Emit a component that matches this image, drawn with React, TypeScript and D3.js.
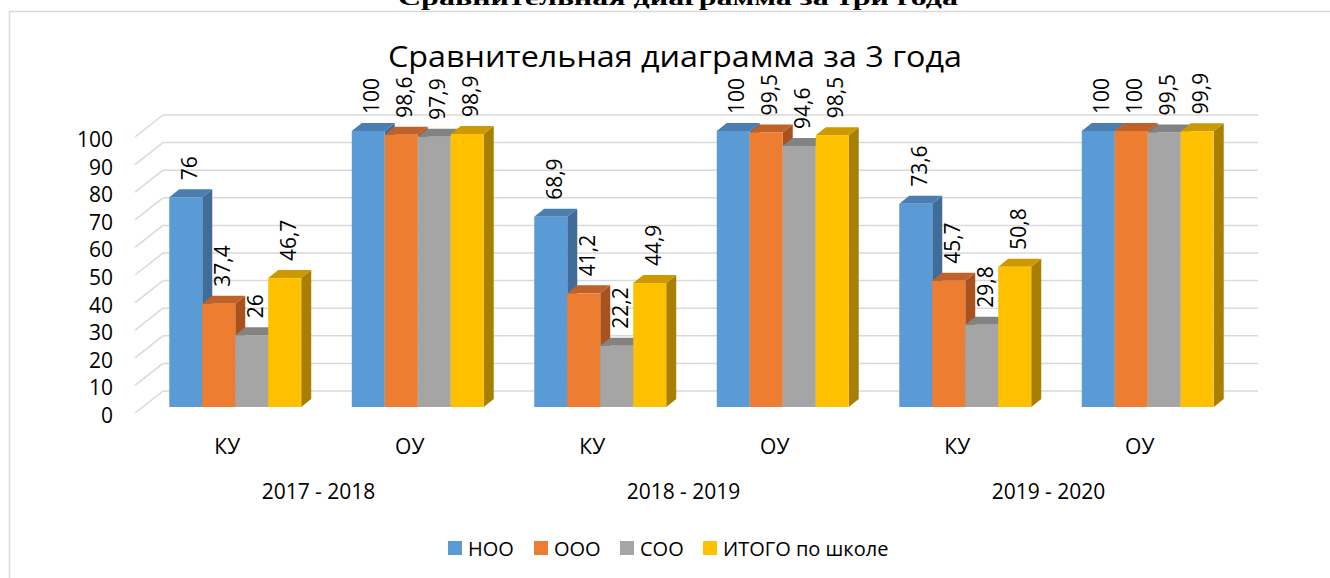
import React from "react";
import * as d3 from "d3";

const categories = ["КУ", "ОУ", "КУ", "ОУ", "КУ", "ОУ"];
const years = ["2017 - 2018", "2018 - 2019", "2019 - 2020"];
const seriesNames = ["НОО", "ООО", "СОО", "ИТОГО по школе"];
const noo = [76, 100, 68.9, 100, 73.6, 100];
const ooo = [37.4, 98.6, 41.2, 99.5, 45.7, 100];
const soo = [26, 97.9, 22.2, 94.6, 29.8, 99.5];
const itogo = [46.7, 98.9, 44.9, 98.5, 50.8, 99.9];
const yTicks = [0, 10, 20, 30, 40, 50, 60, 70, 80, 90, 100];

const seriesValues = [noo, ooo, soo, itogo];
const front = ["#5B9BD5", "#ED7D31", "#A5A5A5", "#FFC000"];
const topC = ["#4A7EB0", "#C0612A", "#828282", "#CC9A00"];
const sideC = ["#3F6C98", "#A8531F", "#888888", "#A87F00"];

const FONT = "'Open Sans', 'Noto Sans', sans-serif";

export default function App() {
  const W = 1330, H = 578;
  const floorX0 = 135, floorX1 = 1230;
  const depthDX = 28, depthDY = 22;
  const barOffX = 9, barOffY = 6;
  const bdx = 10, bdy = 8;

  const xBand = d3.scaleBand<number>().domain(d3.range(categories.length)).range([floorX0, floorX1]).padding(0);
  const groupW = xBand.bandwidth() * 0.723;
  const inner = d3.scaleBand<number>().domain(d3.range(seriesNames.length)).range([0, groupW]).padding(0);

  const yAxis = d3.scaleLinear().domain([0, 100]).range([413, 137]);
  const yBar = d3.scaleLinear().domain([0, 100]).range([413 - barOffY, 137 - barOffY]);
  const yBack = d3.scaleLinear().domain([0, 100]).range([413 - depthDY, 137 - depthDY]);

  const fmt = (v: number) => String(v).replace(".", ",");

  const bars: React.ReactNode[] = [];
  const labels: React.ReactNode[] = [];
  categories.forEach((_, ci) => {
    const gx = (xBand(ci) as number) + xBand.bandwidth() / 2 - groupW / 2 + barOffX;
    seriesValues.forEach((vals, si) => {
      const v = vals[ci];
      const x0 = gx + (inner(si) as number);
      const x1 = x0 + inner.bandwidth();
      const yt = yBar(v);
      const yb = yBar(0);
      bars.push(
        <g key={`b${ci}-${si}`}>
          <polygon points={`${x1},${yt} ${x1 + bdx},${yt - bdy} ${x1 + bdx},${yb - bdy} ${x1},${yb}`} fill={sideC[si]} />
          <polygon points={`${x0},${yt} ${x0 + bdx},${yt - bdy} ${x1 + bdx},${yt - bdy} ${x1},${yt}`} fill={topC[si]} />
          <rect x={x0} y={yt} width={x1 - x0} height={yb - yt} fill={front[si]} />
        </g>
      );
      const lx = (x0 + x1) / 2 + 3;
      const ly = yt - 17;
      labels.push(
        <text key={`l${ci}-${si}`} transform={`translate(${lx},${ly}) rotate(-90)`} textAnchor="start"
          dominantBaseline="central" fontSize={21} fontFamily={FONT} fill="#000">{fmt(v)}</text>
      );
    });
  });

  const legendX = [448, 534, 620, 703];

  return (
    <svg width={W} height={H} style={{ position: "absolute", left: 0, top: 0, background: "#fff" }}>
      <rect x={0} y={0} width={W} height={H} fill="#fff" />
      <text x={678} y={5} textAnchor="middle" fontFamily="'Liberation Serif', serif" fontWeight="bold" fontSize={22}
        textLength={560} lengthAdjust="spacingAndGlyphs">Сравнительная диаграмма за три года</text>
      <rect x={9.5} y={11.5} width={1340} height={600} fill="none" stroke="#D9D9D9" strokeWidth={1.5} />
      <text x={675} y={67} textAnchor="middle" fontFamily={FONT} fontSize={29} fill="#000"
        textLength={574} lengthAdjust="spacingAndGlyphs">Сравнительная диаграмма за 3 года</text>

      {yTicks.map((t) => (
        <g key={`g${t}`}>
          <line x1={floorX0} y1={yAxis(t)} x2={floorX0 + depthDX} y2={yBack(t)} stroke="#D9D9D9" strokeWidth={1.5} />
          <line x1={floorX0 + depthDX} y1={yBack(t)} x2={floorX1 + depthDX} y2={yBack(t)} stroke="#D9D9D9" strokeWidth={1.5} />
          <text x={113} y={yAxis(t) + 2} textAnchor="end" dominantBaseline="central" fontFamily={FONT} fontSize={21} fill="#000">{t}</text>
        </g>
      ))}

      {bars}
      {labels}

      {categories.map((c, ci) => (
        <text key={`c${ci}`} x={(xBand(ci) as number) + xBand.bandwidth() / 2 + 1} y={446} textAnchor="middle"
          dominantBaseline="central" fontFamily={FONT} fontSize={21} fill="#000">{c}</text>
      ))}
      {years.map((y, yi) => (
        <text key={`y${yi}`} x={(xBand(yi * 2) as number) + xBand.bandwidth() + 1} y={491} textAnchor="middle"
          dominantBaseline="central" fontFamily={FONT} fontSize={21} fill="#000">{y}</text>
      ))}

      {seriesNames.map((s, si) => (
        <g key={`lg${si}`}>
          <rect x={legendX[si]} y={541} width={14} height={14} fill={front[si]} />
          <text x={legendX[si] + 20} y={548} dominantBaseline="central" fontFamily={FONT} fontSize={20} fill="#000">{s}</text>
        </g>
      ))}
    </svg>
  );
}
